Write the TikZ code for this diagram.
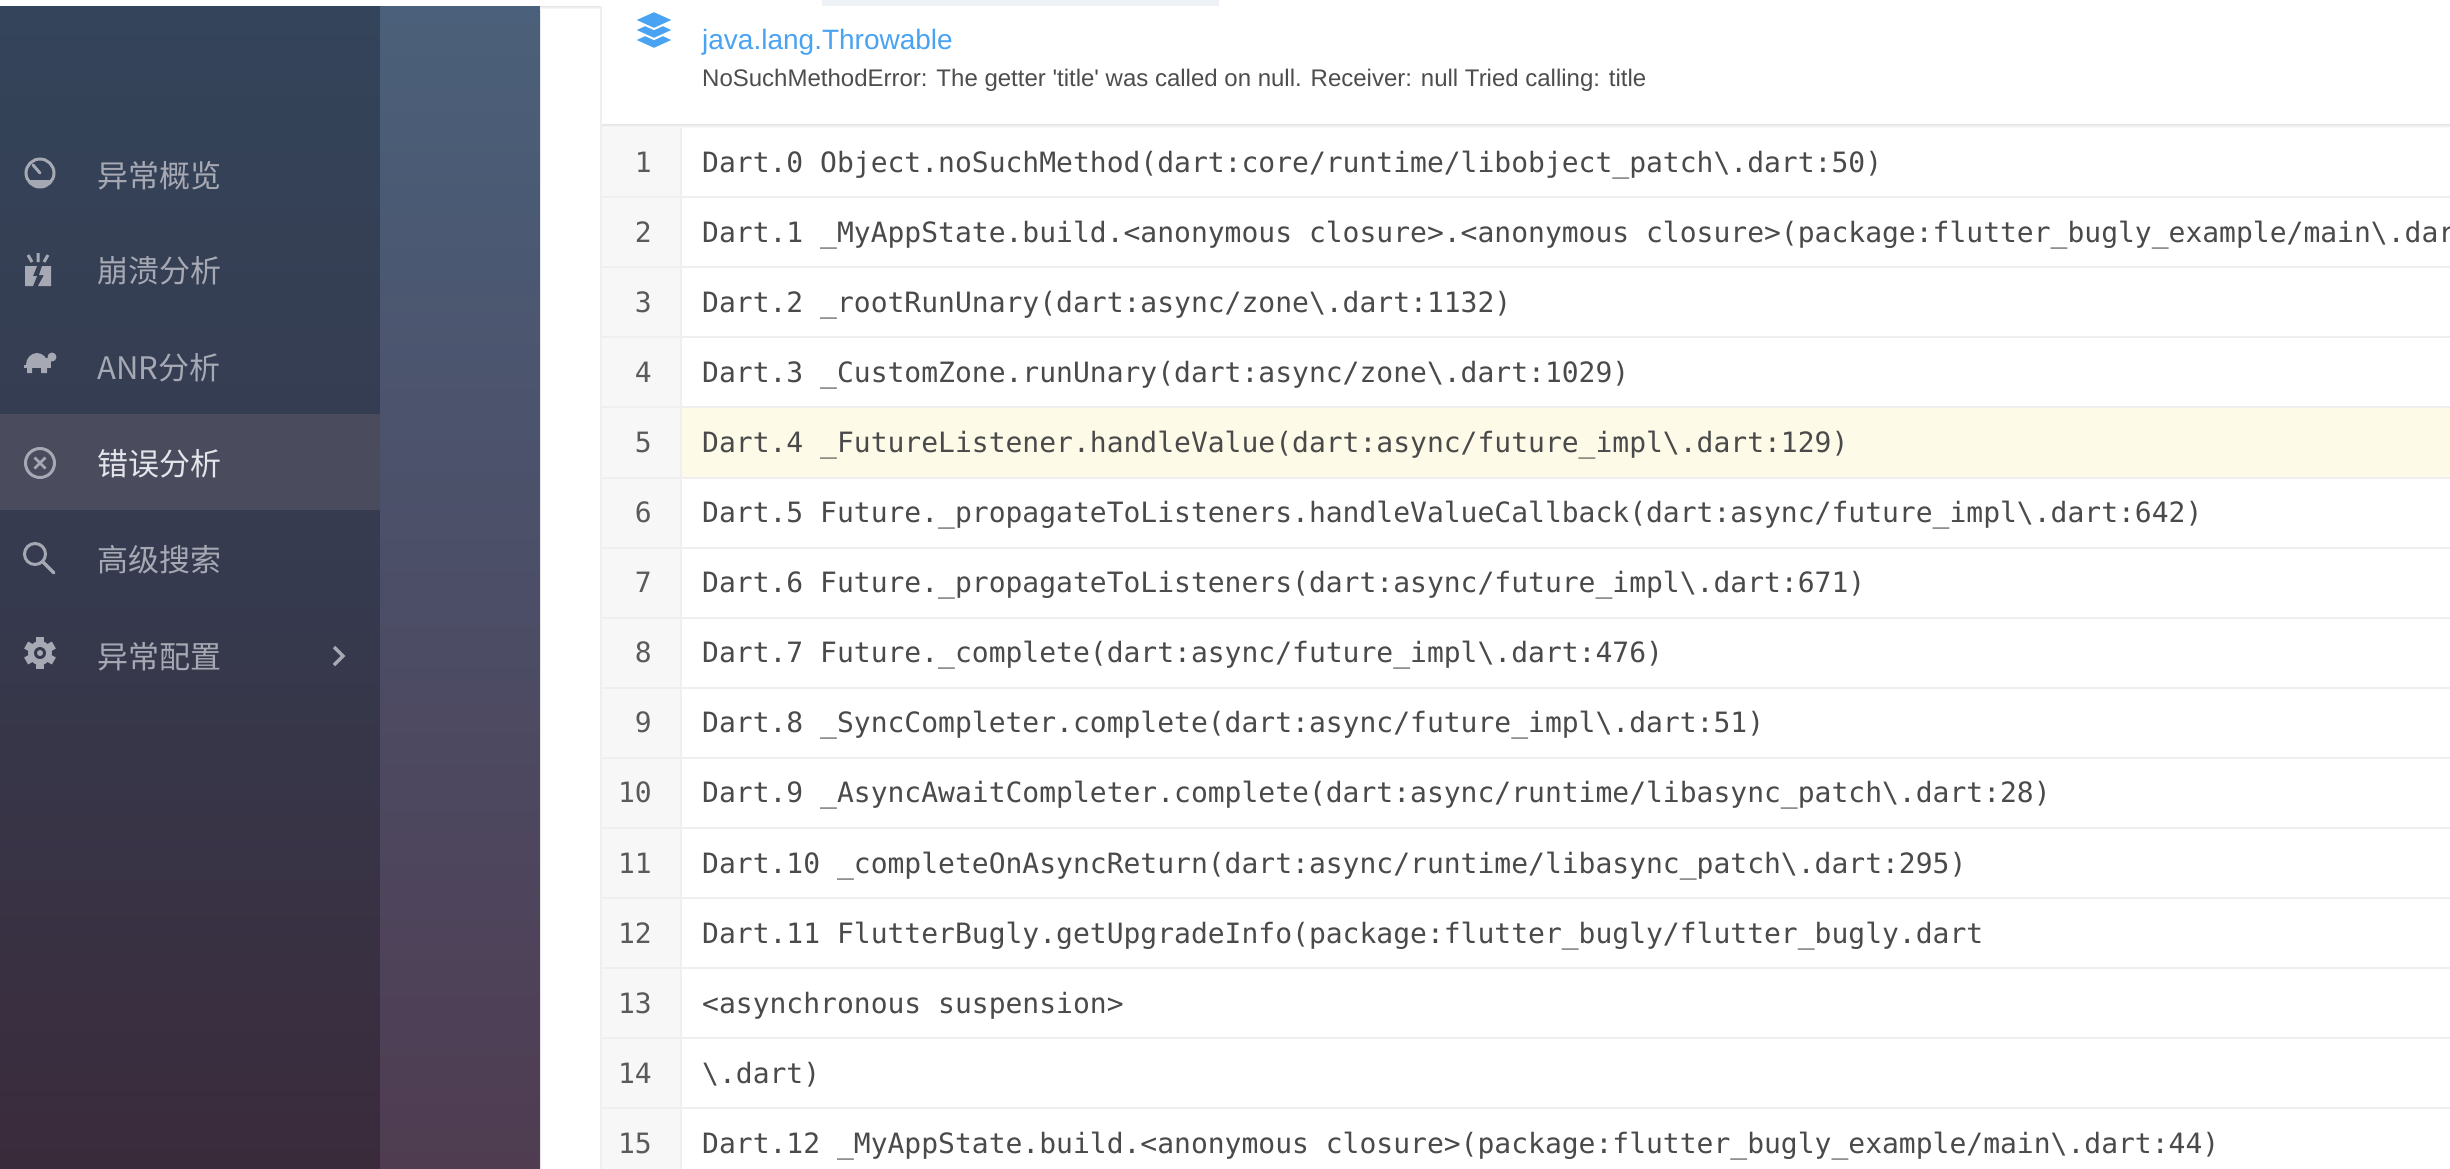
\documentclass[tikz,border=0pt]{standalone}
\usepackage{fontspec}
\setmainfont{Liberation Sans}
\setmonofont{DejaVu Sans Mono}
\newfontfamily\cjk{Noto Sans CJK SC}
\usepackage{xcolor}
\usepackage{tikz}

\definecolor{sidetop}{HTML}{34445A}
\definecolor{sidemid}{HTML}{363A4E}
\definecolor{sidebot}{HTML}{3A2B3B}
\definecolor{paneltop}{HTML}{4B607A}
\definecolor{panelmid}{HTML}{4C4E67}
\definecolor{panelbot}{HTML}{4F3C51}
\definecolor{selband}{HTML}{4A4C5E}
\definecolor{menugray}{HTML}{A6A9B3}
\definecolor{seltext}{HTML}{E4E5EA}
\definecolor{javablue}{HTML}{4AA3F2}
\definecolor{msgtext}{HTML}{4D4D4D}
\definecolor{codetext}{HTML}{4A4A4A}
\definecolor{numtext}{HTML}{5A5A5A}
\definecolor{numbg}{HTML}{F7F7F7}
\definecolor{rowline}{HTML}{EFEFEF}
\definecolor{hilite}{HTML}{FDFAE8}
\definecolor{topbox}{HTML}{EEF1F6}

\begin{document}
\begin{tikzpicture}[x=1pt,y=-1pt,
    menu/.style={anchor=base west, inner sep=0pt, text=menugray, font=\cjk\fontsize{31}{36}\selectfont},
    lineno/.style={anchor=base east, inner sep=0pt, text=numtext, font=\ttfamily\fontsize{28}{34}\selectfont},
    code/.style={anchor=base west, inner sep=0pt, text=codetext, font=\ttfamily\fontsize{28}{34}\selectfont},
    icon/.style={draw=menugray, line width=3pt},
  ]
    \useasboundingbox (0,0) rectangle (2450,1168);
    \clip (0,0) rectangle (2450,1168);
    \fill[white] (0,0) rectangle (2450,1168);

    % Sidebar
    \shade[top color=sidetop, bottom color=sidebot, middle color=sidemid] (0,6) rectangle (380,1168);
    \shade[top color=paneltop, bottom color=panelbot, middle color=panelmid] (380,6) rectangle (540,1168);
    \fill[selband] (0,414) rectangle (380,510);

    % Top bar
    \fill[topbox] (822,0) rectangle (1219,6);
    \shade[top color=black!10, bottom color=white] (540,6) rectangle (2450,9);

    % Menu icons
    \draw[icon] (40,173) circle (14);
    \begin{scope}
        \clip (40,173) circle (14);
        \fill[menugray] (20,180) rectangle (60,195);
    \end{scope}
    \draw[menugray, line width=3pt, line cap=round] (40,173) -- (33,165);

    \fill[menugray] (25,266) -- (37,266) -- (33,276) -- (37,276) -- (33,286) -- (25,286) -- cycle;
    \fill[menugray] (51,266) -- (42,266) -- (39,275) -- (44,275) -- (38,286) -- (51,286) -- cycle;
    \draw[menugray, line width=3pt] (38,253) -- (38,262) (28,255) -- (32,262) (48,255) -- (44,262);

    \fill[menugray] (26,365) arc (180:360:11 and 12) -- cycle;
    \fill[menugray] (52,357) circle (4.5);
    \fill[menugray] (46,358) rectangle (51,366);
    \fill[menugray] (24,365) rectangle (51,368);
    \fill[menugray] (27,368) rectangle (32,373) (41,368) rectangle (47,373);

    \draw[icon] (40,463) circle (14.5);
    \draw[menugray, line width=2.5pt] (34.5,457.5) -- (45.5,468.5) (34.5,468.5) -- (45.5,457.5);

    \draw[icon] (35,554) circle (10.5);
    \draw[menugray, line width=3.5pt, line cap=round] (43,562) -- (54,573);

    \fill[menugray] (40,653) circle (12);
    \foreach \a in {0,60,...,300}
        \fill[menugray, rotate around={\a:(40,653)}] (36,637) rectangle (44,645);
    \fill[sidemid] (40,653) circle (6);
    \fill[menugray] (40,653) circle (3);

    \draw[menugray, line width=3.5pt] (334,647) -- (343,656) -- (334,665);

    % Menu labels
    \node[menu] (overview) at (97,187) {异常概览};
    \node[menu] (crash) at (97,282) {崩溃分析};
    \node[menu] (anr) at (97,379) {ANR分析};
    \node[menu, text=seltext] (error) at (97,475) {错误分析};
    \node[menu] (search) at (97,571) {高级搜索};
    \node[menu] (config) at (97,668) {异常配置};

    % Card
    \fill[white] (601,6) rectangle (2460,1170);
    \draw[rowline, line width=2pt] (601,6) -- (601,1170);
    \shade[top color=black!10, bottom color=white] (602,124) rectangle (2450,128);

    % Header
    \foreach \yy in {40,30,20}
        \filldraw[fill=javablue, draw=white, line width=2pt] (634,\yy) -- (654,\yy-9) -- (674,\yy) -- (654,\yy+9) -- cycle;
    \node[anchor=base west, inner sep=0pt, text=javablue, font=\fontsize{28}{34}\selectfont] (jtitle) at (702,49) {java.lang.Throwable};
    \node[anchor=base west, inner sep=0pt, text=msgtext, font=\fontsize{24}{29}\selectfont] (jmsg) at (702,86) {NoSuchMethodError: The getter \textquotesingle title\textquotesingle{} was called on null. Receiver: null Tried calling: title};

    % Stack rows
    \fill[numbg] (602,128) rectangle (680,1170);
    \fill[hilite] (682,408) rectangle (2450,477);
    \draw[rowline, line width=2pt] (681,128) -- (681,1170);
    \foreach \k in {1,...,14}
        \draw[rowline, line width=2pt] (602,{127+70.1*\k}) -- (2450,{127+70.1*\k});
    \foreach \k in {1,...,15}
        \node[lineno] (n\k) at (652,{172+70.1*(\k-1)}) {\k};

    \node[code] (c1) at (702,172) {Dart.0 Object.noSuchMethod(dart:core/runtime/libobject\_patch\textbackslash.dart:50)};
    \node[code] (c2) at (702,242.1) {Dart.1 \_MyAppState.build.<anonymous closure>.<anonymous closure>(package:flutter\_bugly\_example/main\textbackslash.dar};
    \node[code] (c3) at (702,312.2) {Dart.2 \_rootRunUnary(dart:async/zone\textbackslash.dart:1132)};
    \node[code] (c4) at (702,382.3) {Dart.3 \_CustomZone.runUnary(dart:async/zone\textbackslash.dart:1029)};
    \node[code] (c5) at (702,452.4) {Dart.4 \_FutureListener.handleValue(dart:async/future\_impl\textbackslash.dart:129)};
    \node[code] (c6) at (702,522.5) {Dart.5 Future.\_propagateToListeners.handleValueCallback(dart:async/future\_impl\textbackslash.dart:642)};
    \node[code] (c7) at (702,592.6) {Dart.6 Future.\_propagateToListeners(dart:async/future\_impl\textbackslash.dart:671)};
    \node[code] (c8) at (702,662.7) {Dart.7 Future.\_complete(dart:async/future\_impl\textbackslash.dart:476)};
    \node[code] (c9) at (702,732.8) {Dart.8 \_SyncCompleter.complete(dart:async/future\_impl\textbackslash.dart:51)};
    \node[code] (c10) at (702,802.9) {Dart.9 \_AsyncAwaitCompleter.complete(dart:async/runtime/libasync\_patch\textbackslash.dart:28)};
    \node[code] (c11) at (702,873.0) {Dart.10 \_completeOnAsyncReturn(dart:async/runtime/libasync\_patch\textbackslash.dart:295)};
    \node[code] (c12) at (702,943.1) {Dart.11 FlutterBugly.getUpgradeInfo(package:flutter\_bugly/flutter\_bugly.dart};
    \node[code] (c13) at (702,1013.2) {<asynchronous suspension>};
    \node[code] (c14) at (702,1083.3) {\textbackslash.dart)};
    \node[code] (c15) at (702,1153.4) {Dart.12 \_MyAppState.build.<anonymous closure>(package:flutter\_bugly\_example/main\textbackslash.dart:44)};
\end{tikzpicture}
\end{document}
